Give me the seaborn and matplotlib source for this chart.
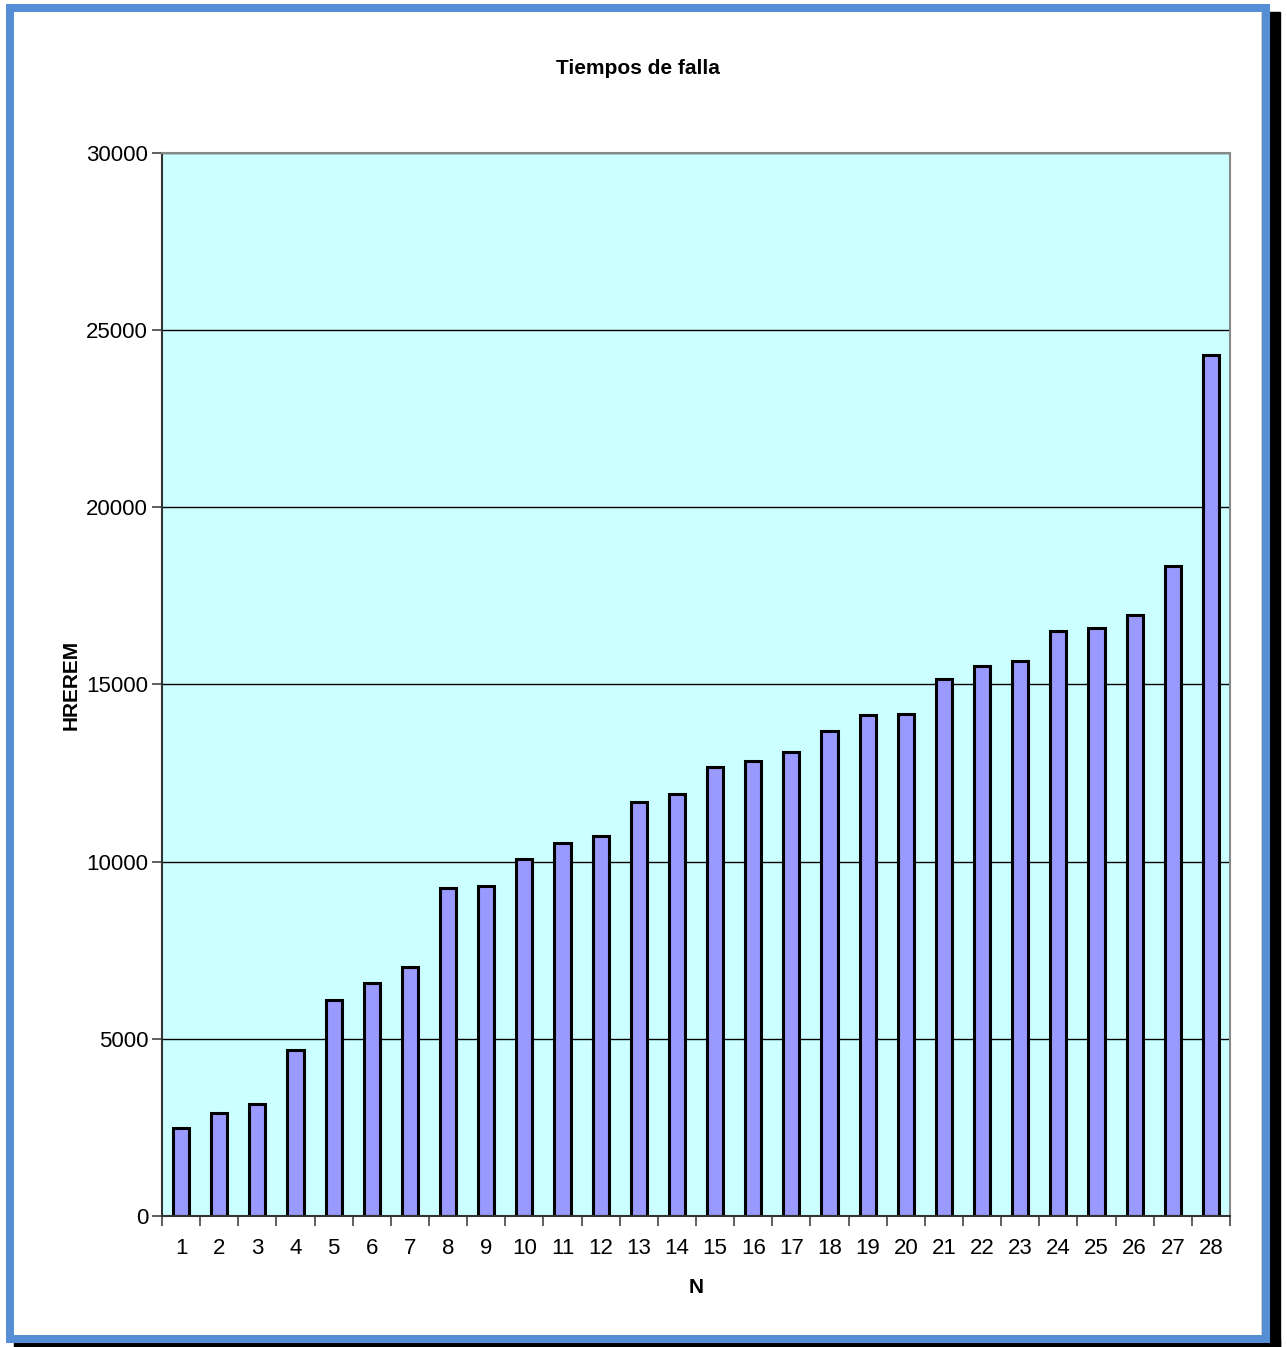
import matplotlib
matplotlib.use("Agg")
import matplotlib.pyplot as plt
from matplotlib.patches import Rectangle
import pandas as pd
import seaborn as sns

n = list(range(1, 29))
hrerem = [2490, 2900, 3170, 4690, 6090, 6580, 7040, 9250, 9300, 10070,
          10520, 10730, 11690, 11910, 12670, 12850, 13100, 13690, 14130, 14160,
          15160, 15510, 15660, 16510, 16600, 16960, 18350, 24290]
y_ticks = [0, 5000, 10000, 15000, 20000, 25000, 30000]

df = pd.DataFrame({"N": n, "HREREM": hrerem})

sns.set_style("white")
plt.rcParams['font.family'] = ['Liberation Sans', 'DejaVu Sans']
plt.rcParams['text.color'] = 'black'
plt.rcParams['axes.labelcolor'] = 'black'
plt.rcParams['xtick.color'] = 'black'
plt.rcParams['ytick.color'] = 'black'

fig = plt.figure(figsize=(12.87, 13.47), dpi=100)
ax = fig.add_axes([162 / 1287, 1 - 1216 / 1347, (1230 - 162) / 1287, (1216 - 153) / 1347])
ax.set_facecolor("#CCFFFF")

sns.barplot(data=df, x="N", y="HREREM", color="#9999FF", saturation=1,
            edgecolor="black", linewidth=2.2, width=0.42, ax=ax)

ax.set_ylim(0, 30000)
ax.set_xlim(-0.5, len(n) - 0.5)
ax.set_yticks(y_ticks)
ax.set_yticklabels([str(t) for t in y_ticks], fontsize=16)
ax.yaxis.grid(True, color="black", linewidth=1)
ax.set_axisbelow(True)

# category ticks at bar boundaries
ax.set_xticks([i - 0.5 for i in range(len(n) + 1)], minor=True)
ax.tick_params(axis="x", which="major", bottom=False, labelsize=16, pad=12)
ax.tick_params(axis="x", which="minor", bottom=True, length=7, width=1.2,
               color="#444444", direction="out")
ax.tick_params(axis="y", left=True, length=7, width=1.2, color="#444444",
               direction="out", pad=3)

for side in ["left", "bottom"]:
    ax.spines[side].set_color("#333333")
    ax.spines[side].set_linewidth(1.5)
for side in ["top", "right"]:
    ax.spines[side].set_color("#888888")
    ax.spines[side].set_linewidth(1.5)

ax.set_xlabel("N", fontsize=15, fontweight="bold", labelpad=14)
ax.set_ylabel("HREREM", fontsize=15, fontweight="bold", labelpad=4)
fig.text(638 / 1287, 1 - 68 / 1347, "Tiempos de falla", ha="center", va="center",
         fontsize=15, fontweight="bold")

# outer frame with shadow
W, H = 1287, 1347
fig.patches.append(Rectangle((14 / W, 0), (1280 - 14) / W, (1347 - 1339) / H,
                             transform=fig.transFigure, color="black", zorder=0))
fig.patches.append(Rectangle((1262 / W, 0), (1280 - 1262) / W, (1347 - 12) / H,
                             transform=fig.transFigure, color="black", zorder=0))
fig.patches.append(Rectangle((10 / W, 1 - 1339 / H), (1266 - 10) / W, (1339 - 8) / H,
                             transform=fig.transFigure, fill=False,
                             edgecolor="#558ED5", linewidth=8 * 72 / 100, zorder=1))

fig.savefig("out.png", dpi=100)
